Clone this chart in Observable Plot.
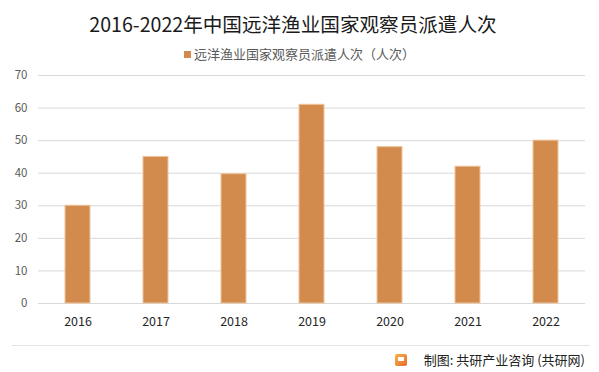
<!DOCTYPE html>
<html><head><meta charset="utf-8">
<script src="https://cdn.jsdelivr.net/npm/d3@7"></script>
<script src="https://cdn.jsdelivr.net/npm/@observablehq/plot@0.6"></script>
<style>
html,body{margin:0;padding:0;background:#fff;}
#wrap{position:relative;width:599px;height:372px;overflow:hidden;font-family:"Noto Sans CJK SC","Noto Sans",sans-serif;}
#title{position:absolute;left:0;top:11px;width:586px;text-align:center;font-size:19.6px;color:#1a1a1a;line-height:26px;}
#legend{position:absolute;left:0;top:45px;width:599px;text-align:center;font-size:13px;color:#595959;line-height:18px;}
#legend .sw{display:inline-block;width:7px;height:7px;background:#D38B4D;margin-right:3px;vertical-align:1px;}
#chart{position:absolute;left:0;top:60px;}
#foot{position:absolute;left:12px;top:345px;width:578px;border-top:1px solid #e3e3e3;}
#src{position:absolute;right:14px;top:351px;font-size:13px;color:#222;line-height:18px;}
#logo{position:absolute;left:395px;top:354px;width:12px;height:12px;border-radius:2px;background:linear-gradient(135deg,#f7b24a,#ea6a2a);}
#logo:after{content:"";position:absolute;left:3px;top:3px;width:6px;height:4px;border:2px solid #fff;border-right:none;border-bottom-width:2px;box-sizing:border-box;}
</style></head>
<body>
<div id="wrap">
  <div id="title"></div>
  <div id="legend"><span class="sw"></span><span id="legtext"></span></div>
  <div id="chart"></div>
  <div id="foot"></div>
  <div id="logo"></div>
  <div id="src"></div>
</div>
<script>
const titleText = "2016-2022年中国远洋渔业国家观察员派遣人次";
const seriesName = "远洋渔业国家观察员派遣人次（人次）";
const sourceText = "制图: 共研产业咨询 (共研网)";
const years = ["2016","2017","2018","2019","2020","2021","2022"];
const values = [30, 45, 39.7, 61, 48, 42, 50];
const yTicks = [0,10,20,30,40,50,60,70];

document.getElementById("title").textContent = titleText;
document.getElementById("legtext").textContent = seriesName;
document.getElementById("src").textContent = sourceText;

const data = years.map((y,i)=>({year:y, value:values[i]}));

const chart = Plot.plot({
  width: 599,
  height: 280,
  marginTop: 15,
  marginBottom: 37,
  marginLeft: 38,
  marginRight: 14,
  style: {fontFamily: '"Noto Sans CJK SC","Noto Sans",sans-serif', background: "transparent"},
  x: {domain: years, paddingInner: 0.68, paddingOuter: 0.34, label: null, tickSize: 0, tickPadding: 14},
  y: {domain: [0,70], ticks: yTicks, label: null, tickSize: 0, tickPadding: 11},
  marks: [
    Plot.ruleY(yTicks, {stroke: "#d9d9d9", strokeWidth: 1}),
    Plot.barY(data, {x: "year", y: "value", fill: "#D38B4D", stroke: "#EEC39C", strokeWidth: 1}),
    Plot.axisY({ticks: yTicks, tickSize: 0, tickPadding: 11, fontSize: 11.5, color: "#595959", label: null}),
    Plot.axisX({tickSize: 0, tickPadding: 14, fontSize: 12.5, color: "#262626", label: null})
  ]
});
document.getElementById("chart").appendChild(chart);
</script>
</body></html>
